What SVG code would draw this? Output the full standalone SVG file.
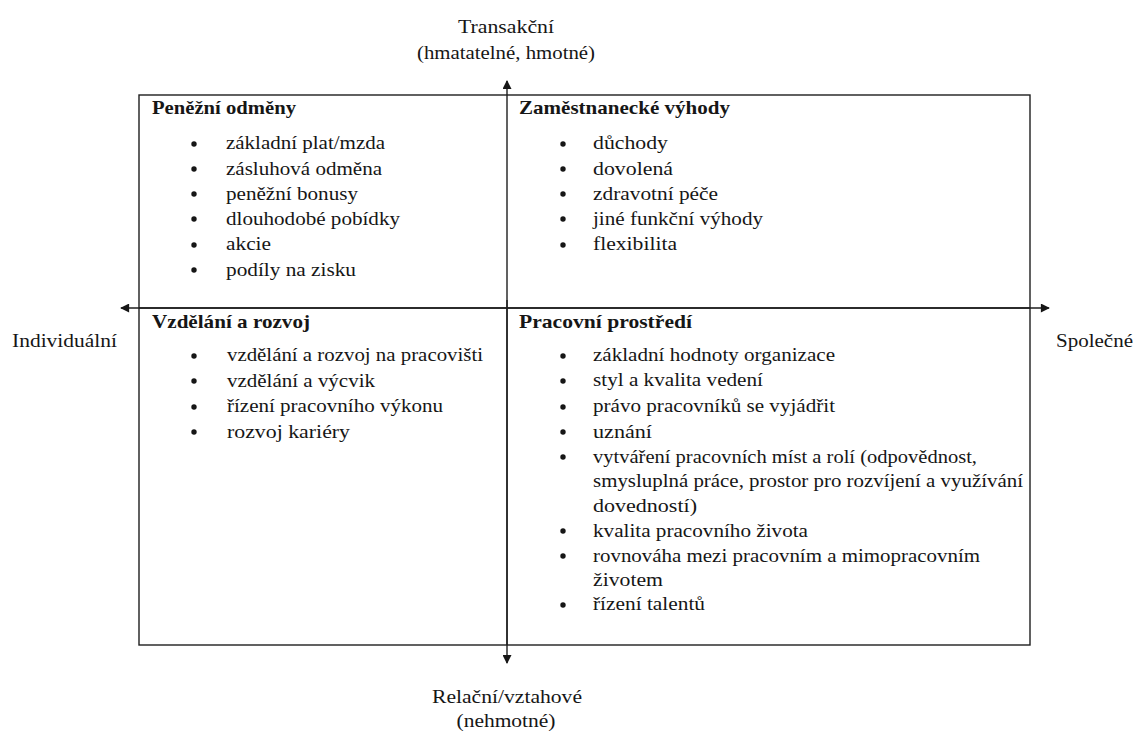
<svg xmlns="http://www.w3.org/2000/svg" width="1136" height="731" viewBox="0 0 1136 731">
<style>
text{font-family:"Liberation Serif",Tinos,"DejaVu Serif","Times New Roman",Times,serif;font-size:19px;fill:#161616}
.h{font-weight:bold}
.ax{stroke:#1e1e1e;stroke-width:1.4;fill:none}
.box{stroke:#1e1e1e;stroke-width:1.4;fill:none}
.c{text-anchor:middle}
</style>
<defs>
<marker id="ah" viewBox="0 0 10 10" refX="9" refY="5" markerWidth="10" markerHeight="9" markerUnits="userSpaceOnUse" orient="auto">
<path d="M0,0 L10,5 L0,10 z" fill="#161616"/>
</marker>
<circle id="b" r="2.7" fill="#161616"/>
</defs>
<rect x="0" y="0" width="1136" height="731" fill="#fff"/>
<rect class="box" x="139" y="95" width="891" height="550"/>
<g id="connectors">
<line class="ax" x1="507" y1="645" x2="507" y2="81" marker-end="url(#ah)"/>
<line class="ax" x1="507" y1="300" x2="507" y2="663" marker-end="url(#ah)"/>
<line class="ax" x1="1030" y1="308" x2="121" y2="308" marker-end="url(#ah)"/>
<line class="ax" x1="139" y1="308" x2="1049" y2="308" marker-end="url(#ah)"/>
</g>
<g id="label-top"><text class="c" x="506" y="33" textLength="96" lengthAdjust="spacingAndGlyphs">Transakční</text><text class="c" x="506" y="59" textLength="178" lengthAdjust="spacingAndGlyphs">(hmatatelné, hmotné)</text></g>
<g id="label-bottom"><text class="c" x="507" y="703" textLength="150" lengthAdjust="spacingAndGlyphs">Relační/vztahové</text><text class="c" x="506" y="727" textLength="99" lengthAdjust="spacingAndGlyphs">(nehmotné)</text></g>
<g id="label-left"><text x="12" y="347" textLength="105" lengthAdjust="spacingAndGlyphs">Individuální</text></g>
<g id="label-right"><text x="1056" y="347" textLength="77" lengthAdjust="spacingAndGlyphs">Společné</text></g>
<g id="q-penezni">
<text class="h" x="152" y="114" textLength="144" lengthAdjust="spacingAndGlyphs">Peněžní odměny</text>
<use href="#b" x="194" y="144"/><text x="226" y="149" textLength="159" lengthAdjust="spacingAndGlyphs">základní plat/mzda</text>
<use href="#b" x="194" y="169"/><text x="226" y="175" textLength="156" lengthAdjust="spacingAndGlyphs">zásluhová odměna</text>
<use href="#b" x="194" y="194"/><text x="226" y="200" textLength="132" lengthAdjust="spacingAndGlyphs">peněžní bonusy</text>
<use href="#b" x="194" y="219"/><text x="226" y="225" textLength="174" lengthAdjust="spacingAndGlyphs">dlouhodobé pobídky</text>
<use href="#b" x="194" y="245"/><text x="226" y="250" textLength="45" lengthAdjust="spacingAndGlyphs">akcie</text>
<use href="#b" x="194" y="270"/><text x="226" y="276" textLength="130" lengthAdjust="spacingAndGlyphs">podíly na zisku</text>
</g>
<g id="q-vyhody">
<text class="h" x="519" y="114" textLength="211" lengthAdjust="spacingAndGlyphs">Zaměstnanecké výhody</text>
<use href="#b" x="563" y="144"/><text x="593" y="149" textLength="75" lengthAdjust="spacingAndGlyphs">důchody</text>
<use href="#b" x="563" y="169"/><text x="593" y="175" textLength="80" lengthAdjust="spacingAndGlyphs">dovolená</text>
<use href="#b" x="563" y="194"/><text x="593" y="200" textLength="125" lengthAdjust="spacingAndGlyphs">zdravotní péče</text>
<use href="#b" x="563" y="219"/><text x="593" y="225" textLength="170" lengthAdjust="spacingAndGlyphs">jiné funkční výhody</text>
<use href="#b" x="563" y="245"/><text x="593" y="250" textLength="84" lengthAdjust="spacingAndGlyphs">flexibilita</text>
</g>
<g id="q-vzdelani">
<text class="h" x="152" y="328" textLength="158" lengthAdjust="spacingAndGlyphs">Vzdělání a rozvoj</text>
<use href="#b" x="194" y="356"/><text x="227" y="361" textLength="256" lengthAdjust="spacingAndGlyphs">vzdělání a rozvoj na pracovišti</text>
<use href="#b" x="194" y="381"/><text x="227" y="387" textLength="148" lengthAdjust="spacingAndGlyphs">vzdělání a výcvik</text>
<use href="#b" x="194" y="407"/><text x="227" y="412" textLength="216" lengthAdjust="spacingAndGlyphs">řízení pracovního výkonu</text>
<use href="#b" x="194" y="432"/><text x="227" y="438" textLength="123" lengthAdjust="spacingAndGlyphs">rozvoj kariéry</text>
</g>
<g id="q-prostredi">
<text class="h" x="519" y="328" textLength="173" lengthAdjust="spacingAndGlyphs">Pracovní prostředí</text>
<use href="#b" x="563" y="356"/><text x="593" y="361" textLength="242" lengthAdjust="spacingAndGlyphs">základní hodnoty organizace</text>
<use href="#b" x="563" y="381"/><text x="593" y="386" textLength="170" lengthAdjust="spacingAndGlyphs">styl a kvalita vedení</text>
<use href="#b" x="563" y="407"/><text x="593" y="412" textLength="242" lengthAdjust="spacingAndGlyphs">právo pracovníků se vyjádřit</text>
<use href="#b" x="563" y="432"/><text x="593" y="438" textLength="59" lengthAdjust="spacingAndGlyphs">uznání</text>
<use href="#b" x="563" y="457"/><text x="593" y="463" textLength="384" lengthAdjust="spacingAndGlyphs">vytváření pracovních míst a rolí (odpovědnost,</text>
<text x="593" y="487" textLength="430" lengthAdjust="spacingAndGlyphs">smysluplná práce, prostor pro rozvíjení a využívání</text>
<text x="593" y="512" textLength="104" lengthAdjust="spacingAndGlyphs">dovedností)</text>
<use href="#b" x="563" y="531"/><text x="593" y="537" textLength="215" lengthAdjust="spacingAndGlyphs">kvalita pracovního života</text>
<use href="#b" x="563" y="556"/><text x="593" y="562" textLength="387" lengthAdjust="spacingAndGlyphs">rovnováha mezi pracovním a mimopracovním</text>
<text x="593" y="586" textLength="70" lengthAdjust="spacingAndGlyphs">životem</text>
<use href="#b" x="563" y="605"/><text x="593" y="610" textLength="112" lengthAdjust="spacingAndGlyphs">řízení talentů</text>
</g>
</svg>
